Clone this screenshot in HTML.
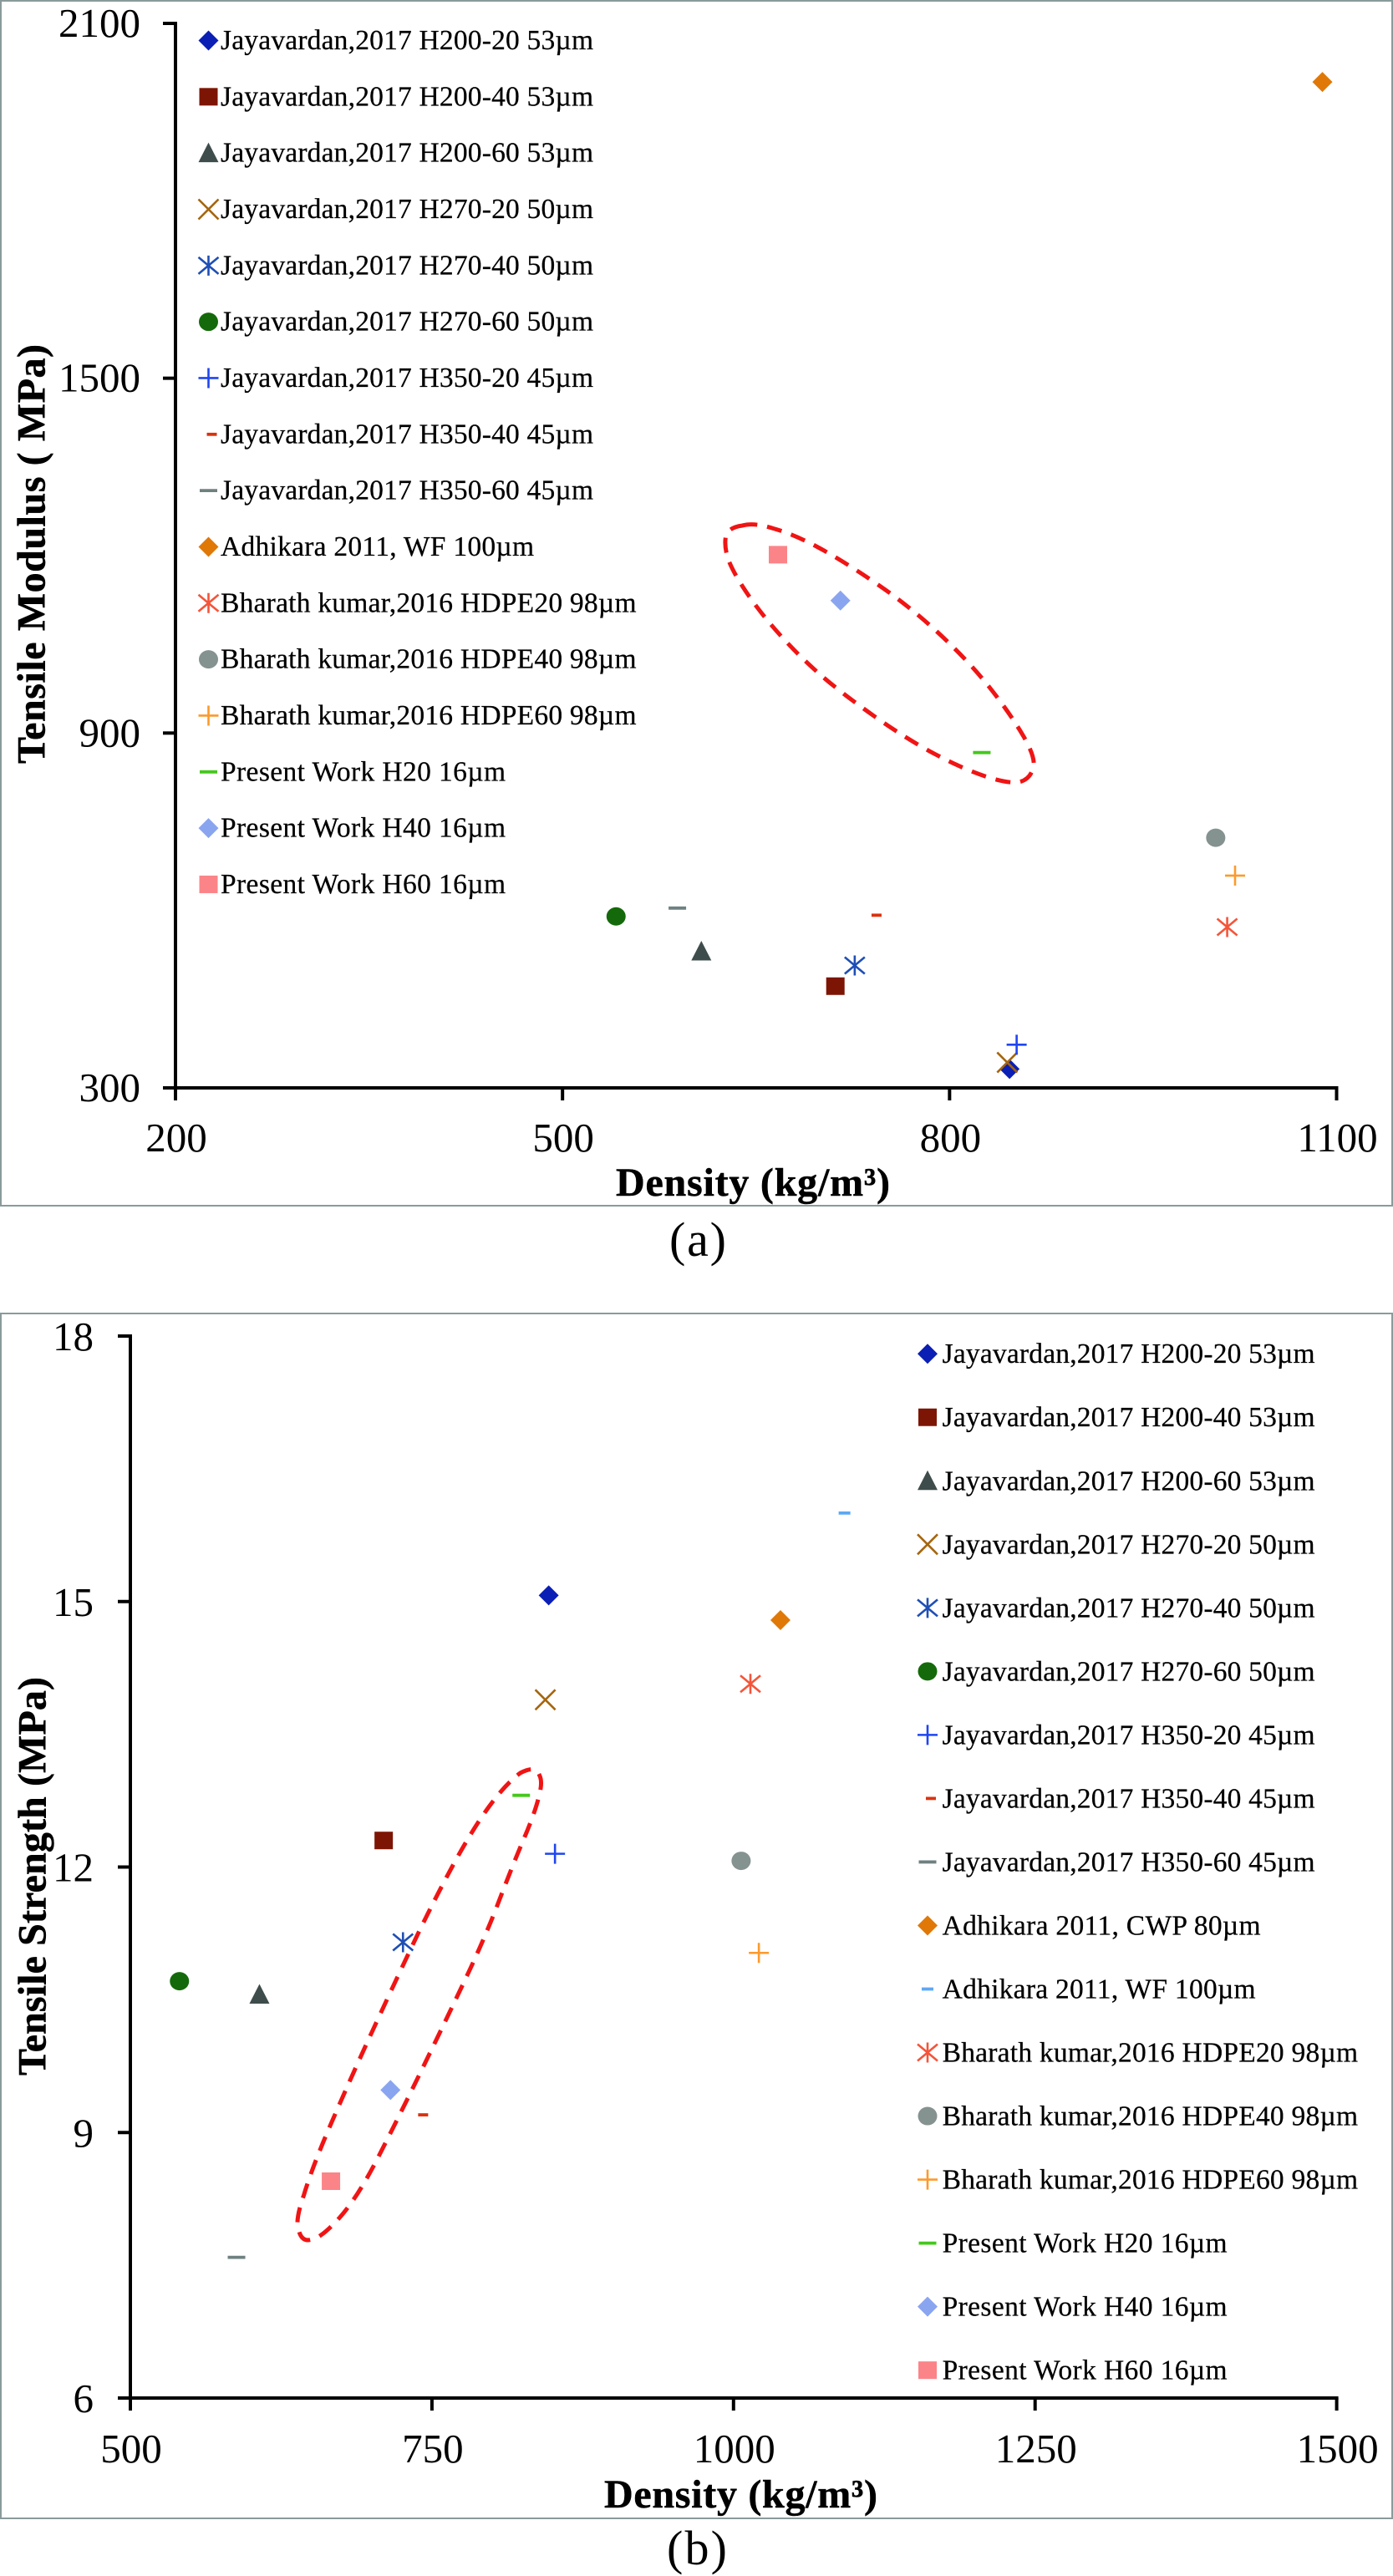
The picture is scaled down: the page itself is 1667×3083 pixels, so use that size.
<!DOCTYPE html>
<html lang="en">
<head>
<meta charset="utf-8">
<title>Tensile modulus and strength versus density</title>
<style>
html,body{margin:0;padding:0;background:#fff;width:1667px;height:3083px;overflow:hidden}
svg{display:block}
text{font-family:"Liberation Serif",serif;fill:#000}
.tick{font-size:49px}
.title{font-size:48px;font-weight:bold;stroke:#000;stroke-width:.5px}
.legend{font-size:33.5px;stroke:#000;stroke-width:.25px}
.caption{font-size:58px}
</style>
</head>
<body>
<svg id="figure" xmlns="http://www.w3.org/2000/svg" width="1667" height="3083" viewBox="0 0 1667 3083">
  <rect x="1" y="1" width="1665" height="1442" fill="#fff" stroke="#8a9a9a" stroke-width="2"/>
  <rect x="1" y="1572" width="1665" height="1442" fill="#fff" stroke="#8a9a9a" stroke-width="2"/>

  <g id="chart-a"></g>
  <g id="chart-b"></g>

  <path fill="none" stroke="#f01414" stroke-width="5" stroke-dasharray="18 12"
    d="M888.5 629 Q902 625 925.5 632.5 Q949 639 978 654.5 Q1007 670 1047.5 697.5 Q1088 725 1123.75 758.25 Q1159.5 791.5 1184.25 822.75 Q1209 854 1225 881.5 Q1241 909 1236 921 Q1231 934 1218.75 936 Q1206.5 938 1180.25 929.5 Q1154 921 1119.5 902.8 Q1085 884.6 1046 857 Q1007 829.5 982.3 808 Q957.6 786.6 934 760.5 Q910.6 734.5 894 710 Q877.4 685.5 871.2 668.75 Q866 652 869 640 Q873 631 888.5 629 Z"/>
  <path fill="none" stroke="#f01414" stroke-width="5" stroke-dasharray="18 12"
    d="M645.5 2124.5 Q650 2133 644.5 2151.5 Q640 2170 627 2200.5 Q614 2231 597 2275.5 Q580 2320 557 2368.5 Q534 2417 506.5 2473.5 Q479 2530 453.5 2580 Q428 2630 406.5 2654 Q385 2678 373.5 2680 Q362 2684 358 2671 Q352 2660 363.5 2627.5 Q373 2595 397.5 2538.5 Q422 2482 449 2423.5 Q476 2365 497.5 2320 Q519 2275 542 2232.5 Q565 2190 585 2162.5 Q605 2135 622.5 2122 Q641 2112 645.5 2124.5 Z"/>

  <text class="title" transform="translate(53.5 914) rotate(-90)" textLength="502" lengthAdjust="spacing">Tensile Modulus ( MPa)</text>
  <text class="title" x="737" y="1431" textLength="328" lengthAdjust="spacing">Density (kg/m³)</text>
  <text class="caption" x="801" y="1503" textLength="68" lengthAdjust="spacing">(a)</text>

  <text class="title" transform="translate(54.5 2484) rotate(-90)" textLength="477" lengthAdjust="spacing">Tensile Strength (MPa)</text>
  <text class="title" x="723" y="3001" textLength="327" lengthAdjust="spacing">Density (kg/m³)</text>
  <text class="caption" x="798" y="3069" textLength="72" lengthAdjust="spacing">(b)</text>
</svg>

<script>
const xTicksA = [200, 500, 800, 1100];
const yTicksA = [300, 900, 1500, 2100];
const labelsA = [
  "Jayavardan,2017 H200-20 53µm",
  "Jayavardan,2017 H200-40 53µm",
  "Jayavardan,2017 H200-60 53µm",
  "Jayavardan,2017 H270-20 50µm",
  "Jayavardan,2017 H270-40 50µm",
  "Jayavardan,2017 H270-60 50µm",
  "Jayavardan,2017 H350-20 45µm",
  "Jayavardan,2017 H350-40 45µm",
  "Jayavardan,2017 H350-60 45µm",
  "Adhikara 2011, WF 100µm",
  "Bharath kumar,2016 HDPE20 98µm",
  "Bharath kumar,2016 HDPE40 98µm",
  "Bharath kumar,2016 HDPE60 98µm",
  "Present Work H20 16µm",
  "Present Work H40 16µm",
  "Present Work H60 16µm"
];
const densityA = [846.5, 711.5, 607.6, 844.7, 726.5, 541.5, 852, 743.4, 589, 1089, 1015.2, 1006.3, 1021.3, 825, 715.4, 667];
const modulusA = [332, 472, 531, 343, 507, 590, 373, 592, 604, 2001, 572, 723, 659, 867, 1124, 1201.6];
const kindsA = ["diamond","square","triangle","cross","star","circle","plus","dashShort","dashLong","diamond","star","circle","plus","dashLong","diamond","square"];
const colorsA = ["#0b1fb5","#7d1505","#3f4c4c","#a5660f","#1f4fb5","#146a0a","#1f45f0","#d9320f","#6f8080","#e07808","#f4553a","#849290","#fb9a2c","#44c81c","#8aa5f0","#fb8488"];

const xTicksB = [500, 750, 1000, 1250, 1500];
const yTicksB = [6, 9, 12, 15, 18];
const labelsB = [
  "Jayavardan,2017 H200-20 53µm",
  "Jayavardan,2017 H200-40 53µm",
  "Jayavardan,2017 H200-60 53µm",
  "Jayavardan,2017 H270-20 50µm",
  "Jayavardan,2017 H270-40 50µm",
  "Jayavardan,2017 H270-60 50µm",
  "Jayavardan,2017 H350-20 45µm",
  "Jayavardan,2017 H350-40 45µm",
  "Jayavardan,2017 H350-60 45µm",
  "Adhikara 2011, CWP 80µm",
  "Adhikara 2011, WF 100µm",
  "Bharath kumar,2016 HDPE20 98µm",
  "Bharath kumar,2016 HDPE40 98µm",
  "Bharath kumar,2016 HDPE60 98µm",
  "Present Work H20 16µm",
  "Present Work H40 16µm",
  "Present Work H60 16µm"
];
const densityB = [846.8, 710, 607, 844, 726, 540.7, 852, 742.7, 588, 1038.9, 1092, 1014, 1006.3, 1021, 824, 715.6, 666.3];
const strengthB = [15.07, 12.3, 10.56, 13.89, 11.15, 10.71, 12.15, 9.2, 7.59, 14.79, 16.0, 14.07, 12.07, 11.03, 12.81, 9.48, 8.45];
const kindsB = ["diamond","square","triangle","cross","star","circle","plus","dashShort","dashLong","diamond","dashMid","star","circle","plus","dashLong","diamond","square"];
const colorsB = ["#0b1fb5","#7d1505","#3f4c4c","#a5660f","#1f4fb5","#146a0a","#1f45f0","#d9320f","#6f8080","#e07808","#5ca8f4","#f4553a","#849290","#fb9a2c","#44c81c","#8aa5f0","#fb8488"];

const NS = "http://www.w3.org/2000/svg";

function xScaleA(v) { return 210 + (v - 200) * (1599.5 - 210) / 900; }
function yScaleA(v) { return 1302 - (v - 300) * (1302 - 28) / 1800; }
function xScaleB(v) { return 156 + (v - 500) * (1599.6 - 156) / 1000; }
function yScaleB(v) { return 2870 - (v - 6) * (2870 - 1599) / 12; }

function svgEl(tag, props, parent) {
  const el = document.createElementNS(NS, tag);
  for (const k in props) el.setAttribute(k, props[k]);
  parent.appendChild(el);
  return el;
}

function slug(s) {
  return s.toLowerCase().replace(/[^a-z0-9]+/g, "-").replace(/^-|-$/g, "");
}

function legendWidth(name) {
  if (name.indexOf("Jayavardan") === 0) return 446;
  if (name.indexOf("Bharath") === 0) return 497.5;
  if (name.indexOf("Present") === 0) return 341;
  if (name.indexOf("CWP") > 0) return 381;
  return 375;
}

function drawMarker(parent, kind, color, cx, cy) {
  const line = { stroke: color, "stroke-width": 2.6, fill: "none" };
  if (kind === "diamond") {
    svgEl("path", { d: `M${cx} ${cy - 12}L${cx + 12} ${cy}L${cx} ${cy + 12}L${cx - 12} ${cy}Z`, fill: color }, parent);
  } else if (kind === "square") {
    svgEl("rect", { x: cx - 11, y: cy - 10.5, width: 22, height: 21, fill: color }, parent);
  } else if (kind === "triangle") {
    svgEl("path", { d: `M${cx} ${cy - 12.5}L${cx + 12} ${cy + 11}L${cx - 12} ${cy + 11}Z`, fill: color }, parent);
  } else if (kind === "circle") {
    svgEl("ellipse", { cx: cx, cy: cy, rx: 11.5, ry: 11, fill: color }, parent);
  } else if (kind === "plus") {
    svgEl("path", Object.assign({ d: `M${cx - 12} ${cy}H${cx + 12}M${cx} ${cy - 12}V${cy + 12}` }, line), parent);
  } else if (kind === "cross") {
    svgEl("path", Object.assign({ d: `M${cx - 12} ${cy - 12}L${cx + 12} ${cy + 12}M${cx - 12} ${cy + 12}L${cx + 12} ${cy - 12}` }, line), parent);
  } else if (kind === "star") {
    svgEl("path", Object.assign({ d: `M${cx - 12} ${cy - 10}L${cx + 12} ${cy + 10}M${cx - 12} ${cy + 10}L${cx + 12} ${cy - 10}M${cx} ${cy - 12}V${cy + 12}` }, line), parent);
  } else {
    const half = kind === "dashLong" ? 10.5 : kind === "dashMid" ? 7 : 6;
    svgEl("path", { d: `M${cx - half} ${cy}H${cx + half}`, stroke: color, "stroke-width": 3.8, fill: "none" }, parent);
  }
}

function drawAxes(root, prefix, xTicks, yTicks, xs, ys, yLabelX, xLabelY, yLabelOffset, fontSize) {
  const x0 = xs(xTicks[0]);
  const x1 = xs(xTicks[xTicks.length - 1]);
  const y0 = ys(yTicks[0]);
  const y1 = ys(yTicks[yTicks.length - 1]);

  const yAxis = svgEl("line", { x1: x0, x2: x0, y1: y1 - 2, y2: y0 + 2, stroke: "#000", "stroke-width": 4 }, root);
  
  

  const xAxis = svgEl("line", { x1: x0 - 2, x2: x1 + 2, y1: y0, y2: y0, stroke: "#000", "stroke-width": 4 }, root);
  
  

  xTicks.forEach(function (t) {
    const tick = svgEl("line", { x1: xs(t), x2: xs(t), y1: y0, y2: y0 + 15, stroke: "#000", "stroke-width": 4 }, root);
    
    
    const lab = svgEl("text", { x: xs(t) + 1, y: xLabelY, "text-anchor": "middle", class: "tick", style: "font-size:" + fontSize + "px" }, root);
    lab.textContent = t;
    
    
  });

  yTicks.forEach(function (t) {
    const tick = svgEl("line", { x1: x0 - 15, x2: x0, y1: ys(t), y2: ys(t), stroke: "#000", "stroke-width": 4 }, root);
    
    
    const lab = svgEl("text", { x: yLabelX, y: ys(t) + yLabelOffset, "text-anchor": "end", class: "tick", style: "font-size:" + fontSize + "px" }, root);
    lab.textContent = t;
    
    
  });
}

function drawSeries(root, prefix, labels, xVals, yVals, kinds, colors, xs, ys) {
  labels.forEach(function (name, i) {
    const g = svgEl("g", {}, root);
    
    
    drawMarker(g, kinds[i], colors[i], xs(xVals[i]), ys(yVals[i]));
  });
}

function drawLegend(root, prefix, labels, kinds, colors, markerX, textX, firstY, stepY, baseOffset) {
  labels.forEach(function (name, i) {
    const cy = firstY + i * stepY;
    const g = svgEl("g", {}, root);
    
    
    const mx = kinds[i] === "dashShort" ? markerX + 4 : markerX;
    drawMarker(g, kinds[i], colors[i], mx, cy);
    const t = svgEl("text", { x: textX, y: cy + baseOffset, class: "legend", textLength: legendWidth(name), lengthAdjust: "spacing" }, g);
    t.textContent = name;
    
    
  });
}

const rootA = document.getElementById("chart-a");
const rootB = document.getElementById("chart-b");

drawAxes(rootA, "chart-a", xTicksA, yTicksA, xScaleA, yScaleA, 168, 1378, 16, 49);
drawSeries(rootA, "chart-a", labelsA, densityA, modulusA, kindsA, colorsA, xScaleA, yScaleA);
drawLegend(rootA, "chart-a", labelsA, kindsA, colorsA, 249.5, 264, 48.5, 67.33, 10.5);

drawAxes(rootB, "chart-b", xTicksB, yTicksB, xScaleB, yScaleB, 112, 2947, 17, 49);
drawSeries(rootB, "chart-b", labelsB, densityB, strengthB, kindsB, colorsB, xScaleB, yScaleB);
drawLegend(rootB, "chart-b", labelsB, kindsB, colorsB, 1110, 1127.6, 1620.2, 76.03, 11);
</script>
</body>
</html>
